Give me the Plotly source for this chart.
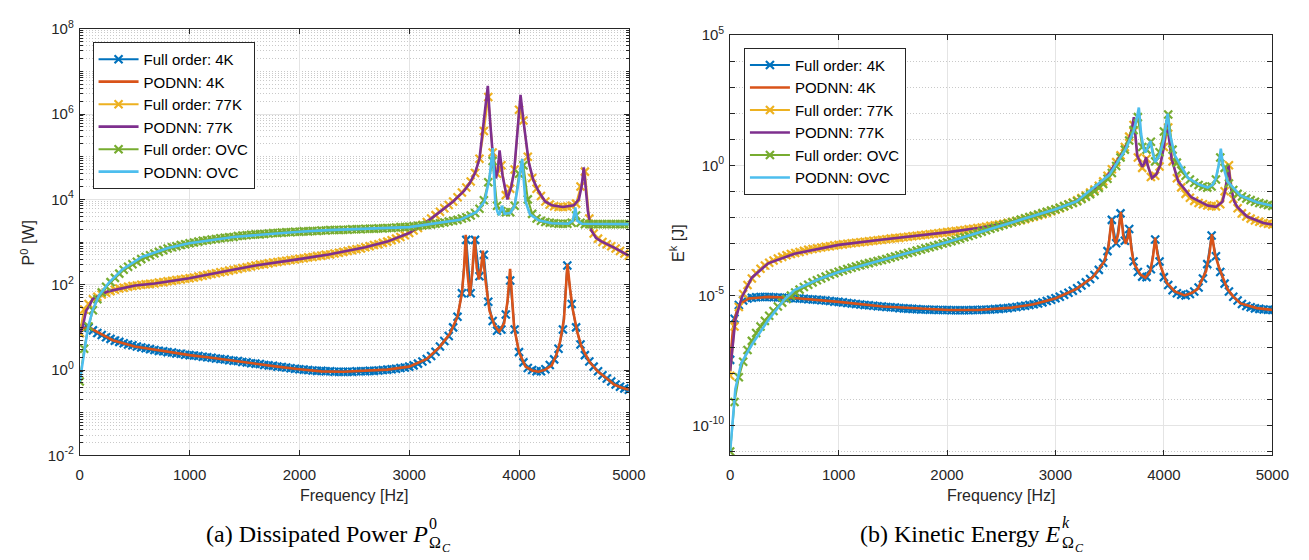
import plotly.graph_objects as go

# ---------------- data (log10 values) ----------------
F_FULL = list(range(0, 5001, 40))  # full-order frequency grid [Hz]

# Left: dissipated power P0 [W], log10
P_4K_FULL = [
    0.87, 0.98, 0.99, 0.93, 0.87, 0.82, 0.77, 0.73, 0.69, 0.66,
    0.63, 0.60, 0.58, 0.55, 0.53, 0.51, 0.49, 0.47, 0.45, 0.44,
    0.42, 0.41, 0.39, 0.38, 0.36, 0.35, 0.34, 0.33, 0.31, 0.30,
    0.29, 0.27, 0.26, 0.25, 0.23, 0.22, 0.21, 0.19, 0.18, 0.16,
    0.15, 0.14, 0.12, 0.11, 0.10, 0.08, 0.07, 0.06, 0.04, 0.03,
    0.02, 0.01, 0.00, -0.01, -0.02, -0.02, -0.03, -0.03, -0.04, -0.04,
    -0.04, -0.04, -0.04, -0.03, -0.03, -0.03, -0.02, -0.02, -0.01, 0.00,
    0.01, 0.02, 0.03, 0.05, 0.06, 0.08, 0.11, 0.15, 0.20, 0.26,
    0.33, 0.43, 0.55, 0.68, 0.80, 1.00, 1.25, 1.80, 3.05, 1.80,
    3.05, 2.20, 2.70, 1.60, 1.15, 0.92, 0.95, 1.30, 2.10, 0.95,
    0.42, 0.18, 0.05, 0.00, -0.03, -0.03, 0.02, 0.12, 0.25, 0.50,
    0.95, 2.45, 1.55, 1.00, 0.60, 0.35, 0.20, 0.08, -0.03, -0.12,
    -0.20, -0.27, -0.34, -0.39, -0.43, -0.46]
P_77K_FULL = [
    0.87, 1.42, 1.55, 1.66, 1.72, 1.77, 1.81, 1.85, 1.88, 1.91,
    1.93, 1.95, 1.97, 1.98, 2.00, 2.01, 2.02, 2.03, 2.05, 2.06,
    2.08, 2.09, 2.11, 2.12, 2.14, 2.15, 2.17, 2.19, 2.21, 2.23,
    2.25, 2.27, 2.29, 2.31, 2.33, 2.35, 2.37, 2.39, 2.41, 2.43,
    2.45, 2.47, 2.48, 2.50, 2.52, 2.53, 2.55, 2.56, 2.58, 2.59,
    2.61, 2.62, 2.64, 2.65, 2.67, 2.68, 2.70, 2.71, 2.73, 2.75,
    2.77, 2.79, 2.81, 2.83, 2.85, 2.88, 2.90, 2.93, 2.95, 2.98,
    3.01, 3.04, 3.08, 3.12, 3.16, 3.21, 3.27, 3.33, 3.40, 3.47,
    3.55, 3.63, 3.71, 3.79, 3.87, 3.95, 4.05, 4.16, 4.28, 4.42,
    4.62, 4.95, 5.60, 6.40, 5.10, 4.60, 4.80, 4.10, 4.25, 4.70,
    6.10, 5.85, 5.00, 4.50, 4.25, 4.08, 3.95, 3.88, 3.84, 3.82,
    3.82, 3.83, 3.85, 3.90, 4.30, 4.65, 3.55, 3.20, 3.08, 3.00,
    2.95, 2.90, 2.85, 2.79, 2.73, 2.68]
P_OVC_FULL = [
    -0.27, 0.50, 1.02, 1.40, 1.66, 1.82, 1.95, 2.06, 2.16, 2.26,
    2.35, 2.42, 2.48, 2.54, 2.60, 2.65, 2.69, 2.73, 2.77, 2.81,
    2.85, 2.88, 2.90, 2.93, 2.95, 2.97, 2.99, 3.01, 3.03, 3.04,
    3.06, 3.07, 3.09, 3.10, 3.11, 3.12, 3.14, 3.15, 3.16, 3.17,
    3.18, 3.18, 3.19, 3.20, 3.21, 3.21, 3.22, 3.23, 3.23, 3.24,
    3.24, 3.25, 3.25, 3.26, 3.26, 3.27, 3.27, 3.28, 3.28, 3.28,
    3.29, 3.29, 3.30, 3.30, 3.30, 3.31, 3.31, 3.31, 3.32, 3.32,
    3.33, 3.33, 3.34, 3.35, 3.35, 3.36, 3.37, 3.38, 3.39, 3.40,
    3.41, 3.43, 3.44, 3.46, 3.48, 3.50, 3.52, 3.55, 3.58, 3.62,
    3.68, 3.78, 3.98, 4.40, 4.90, 3.85, 3.72, 3.70, 3.70, 3.85,
    4.60, 4.80, 4.00, 3.66, 3.55, 3.50, 3.47, 3.45, 3.44, 3.43,
    3.43, 3.43, 3.45, 3.62, 3.45, 3.42, 3.42, 3.42, 3.42, 3.42,
    3.42, 3.42, 3.42, 3.42, 3.42, 3.42]

P_4K_NN_F = [0, 40, 80, 150, 300, 500, 800, 1000, 1200, 1500, 1800, 2000, 2200, 2400,
             2600, 2800, 3000, 3160, 3280, 3370, 3440, 3480, 3500, 3515, 3530, 3552,
             3575, 3596, 3615, 3635, 3655, 3671, 3690, 3731, 3776, 3820, 3865, 3895,
             3919, 3935, 3955, 4000, 4059, 4120, 4178, 4240, 4298, 4340, 4373, 4410,
             4441, 4465, 4492, 4530, 4567, 4640, 4716, 4800, 4866, 4930, 5000]
P_4K_NN = [0.87, 0.98, 1.00, 0.90, 0.70, 0.55, 0.42, 0.35, 0.29, 0.18, 0.08, 0.02, -0.03, -0.04,
           -0.02, 0.01, 0.08, 0.26, 0.55, 0.85, 1.25, 1.80, 2.40, 3.17, 2.30, 1.73,
           2.30, 3.13, 2.40, 2.12, 2.40, 2.80, 2.20, 1.39, 1.05, 0.90, 1.10, 1.60,
           2.37, 1.70, 1.01, 0.42, 0.08, -0.01, -0.04, 0.01, 0.11, 0.35, 0.65, 1.20,
           2.49, 1.90, 1.39, 0.90, 0.56, 0.20, -0.03, -0.20, -0.34, -0.41, -0.46]
P_77K_NN_F = [0, 27, 57, 87, 116, 161, 206, 266, 385, 505, 684, 997, 1371, 1600, 1998,
              2267, 2600, 2800, 3000, 3200, 3400, 3500, 3552, 3600, 3640, 3671, 3695,
              3716, 3735, 3755, 3790, 3808, 3823, 3835, 3850, 3894, 3930, 3955, 3985,
              4014, 4044, 4089, 4130, 4179, 4238, 4300, 4400, 4500, 4545, 4570, 4590,
              4605, 4627, 4657, 4700, 4746, 4866, 5000]
P_77K_NN = [0.87, 1.01, 1.39, 1.50, 1.66, 1.72, 1.79, 1.85, 1.92, 1.98, 2.03, 2.15, 2.34, 2.45, 2.60,
            2.71, 2.88, 3.01, 3.21, 3.55, 3.95, 4.20, 4.38, 4.62, 4.95, 5.60, 6.10,
            6.66, 5.90, 5.24, 4.49, 4.70, 5.15, 4.80, 4.56, 4.00, 4.30, 4.64, 5.55,
            6.45, 5.77, 4.87, 4.45, 4.19, 3.95, 3.86, 3.82, 3.86, 4.00, 4.30, 4.75,
            4.30, 3.73, 3.28, 3.10, 3.02, 2.87, 2.68]
P_OVC_NN_F = [0, 20, 42, 72, 116, 176, 266, 385, 565, 804, 997, 1400, 1998, 2267, 3000,
              3462, 3611, 3686, 3731, 3748, 3761, 3772, 3785, 3805, 3820, 3845, 3870,
              3920, 3960, 3990, 4015, 4029, 4042, 4059, 4100, 4179, 4300, 4450, 4490,
              4513, 4530, 4570, 5000]
P_OVC_NN = [-0.27, 0.05, 0.45, 0.95, 1.40, 1.75, 2.05, 2.35, 2.65, 2.86, 2.97, 3.12, 3.24, 3.28, 3.35,
            3.52, 3.70, 3.95, 4.49, 4.90, 5.20, 4.60, 3.88, 3.70, 3.63, 3.85, 3.66,
            3.68, 3.85, 4.30, 4.70, 4.95, 4.50, 3.95, 3.65, 3.51, 3.44, 3.43, 3.50,
            3.81, 3.50, 3.43, 3.42]

# Right: kinetic energy Ek [J], log10
E_4K_FULL = [
    -7.48, -5.90, -5.37, -5.20, -5.12, -5.09, -5.07, -5.06, -5.06, -5.06,
    -5.07, -5.08, -5.09, -5.09, -5.10, -5.11, -5.12, -5.13, -5.15, -5.16,
    -5.17, -5.19, -5.20, -5.22, -5.24, -5.25, -5.27, -5.29, -5.31, -5.33,
    -5.35, -5.37, -5.38, -5.40, -5.42, -5.43, -5.45, -5.46, -5.47, -5.49,
    -5.50, -5.51, -5.52, -5.53, -5.54, -5.54, -5.55, -5.55, -5.56, -5.56,
    -5.56, -5.57, -5.57, -5.57, -5.57, -5.57, -5.56, -5.56, -5.55, -5.55,
    -5.54, -5.53, -5.52, -5.50, -5.49, -5.47, -5.45, -5.42, -5.40, -5.37,
    -5.34, -5.31, -5.27, -5.22, -5.17, -5.11, -5.05, -4.98, -4.90, -4.82,
    -4.73, -4.62, -4.50, -4.37, -4.22, -4.02, -3.75, -3.30, -2.10, -3.00,
    -1.85, -2.90, -2.45, -3.70, -4.10, -4.28, -4.30, -4.00, -2.85, -3.70,
    -4.30, -4.60, -4.80, -4.92, -4.98, -5.00, -4.95, -4.85, -4.70, -4.35,
    -3.80, -2.70, -3.50, -4.10, -4.55, -4.85, -5.05, -5.20, -5.33, -5.41,
    -5.46, -5.50, -5.52, -5.54, -5.55, -5.56]
E_77K_FULL = [
    -8.09, -6.20, -5.45, -4.95, -4.60, -4.35, -4.15, -3.98, -3.85, -3.75,
    -3.66, -3.58, -3.52, -3.46, -3.41, -3.37, -3.33, -3.29, -3.25, -3.22,
    -3.19, -3.16, -3.13, -3.11, -3.08, -3.06, -3.04, -3.02, -3.00, -2.98,
    -2.96, -2.94, -2.92, -2.90, -2.88, -2.86, -2.84, -2.82, -2.80, -2.79,
    -2.77, -2.75, -2.73, -2.71, -2.69, -2.67, -2.65, -2.63, -2.61, -2.59,
    -2.57, -2.55, -2.53, -2.51, -2.49, -2.46, -2.44, -2.41, -2.39, -2.36,
    -2.33, -2.31, -2.28, -2.25, -2.21, -2.18, -2.14, -2.11, -2.07, -2.02,
    -1.98, -1.93, -1.88, -1.83, -1.77, -1.71, -1.65, -1.58, -1.51, -1.43,
    -1.35, -1.26, -1.16, -1.05, -0.93, -0.79, -0.62, -0.40, -0.15, 0.12,
    0.38, 0.70, 1.10, 1.55, 0.30, -0.10, 0.25, -0.45, -0.40, -0.05,
    0.70, 1.45, 0.15, -0.50, -0.85, -1.10, -1.25, -1.37, -1.45, -1.50,
    -1.55, -1.57, -1.58, -1.50, -1.00, 0.00, -1.30, -1.65, -1.85, -1.97,
    -2.05, -2.12, -2.17, -2.22, -2.25, -2.28]
E_OVC_FULL = [
    -11.00, -9.10, -8.15, -7.55, -7.10, -6.75, -6.45, -6.20, -5.98, -5.78,
    -5.60, -5.43, -5.28, -5.14, -5.01, -4.89, -4.78, -4.68, -4.59, -4.50,
    -4.42, -4.35, -4.28, -4.21, -4.15, -4.09, -4.04, -3.99, -3.94, -3.89,
    -3.84, -3.80, -3.76, -3.72, -3.68, -3.64, -3.60, -3.55, -3.51, -3.46,
    -3.42, -3.37, -3.33, -3.28, -3.24, -3.19, -3.15, -3.10, -3.06, -3.01,
    -2.97, -2.92, -2.87, -2.82, -2.77, -2.72, -2.66, -2.61, -2.55, -2.50,
    -2.44, -2.39, -2.34, -2.29, -2.24, -2.19, -2.14, -2.09, -2.04, -1.99,
    -1.94, -1.89, -1.84, -1.79, -1.74, -1.69, -1.63, -1.57, -1.51, -1.45,
    -1.38, -1.30, -1.21, -1.11, -1.00, -0.87, -0.72, -0.52, -0.30, -0.03,
    0.30, 0.60, 0.95, 1.35, 1.85, 0.70, 0.60, 0.90, 0.15, 0.50,
    1.30, 1.95, 0.60, 0.10, -0.20, -0.40, -0.55, -0.67, -0.76, -0.82,
    -0.86, -0.82, -0.55, 0.30, -0.10, -0.70, -0.95, -1.10, -1.20, -1.28,
    -1.34, -1.40, -1.45, -1.49, -1.53, -1.56]

E_4K_NN_F = [0, 33, 79, 170, 351, 593, 1001, 1409, 2015, 2287, 2600, 2800, 3004, 3194, 3345,
             3451, 3490, 3518, 3540, 3557, 3580, 3603, 3625, 3648, 3665, 3681, 3700, 3723,
             3784, 3829, 3875, 3900, 3920, 3940, 3966, 4026, 4100, 4192, 4260, 4313, 4389,
             4420, 4443, 4470, 4510, 4585, 4640, 4707, 4858, 5000]
E_4K_NN = [-7.48, -6.00, -5.37, -5.12, -5.06, -5.10, -5.25, -5.43, -5.56, -5.56, -5.47, -5.34, -5.11, -4.75, -4.30,
           -3.70, -3.10, -2.04, -2.80, -3.02, -2.60, -1.79, -2.70, -3.02, -2.80, -2.41, -3.20, -3.77,
           -4.20, -4.32, -4.07, -3.50, -2.78, -3.40, -3.83, -4.51, -4.85, -5.00, -4.90, -4.75, -4.07,
           -3.40, -2.65, -3.40, -3.95, -4.75, -5.05, -5.31, -5.49, -5.56]
E_77K_NN_F = [0, 48, 109, 200, 351, 593, 1001, 1409, 2015, 2287, 2600, 3000, 3200, 3400, 3497,
              3618, 3678, 3705, 3723, 3738, 3754, 3800, 3822, 3836, 3850, 3890, 3930, 3966,
              4000, 4026, 4045, 4071, 4132, 4253, 4404, 4480, 4540, 4570, 4595, 4620, 4650,
              4677, 4767, 4918, 5000]
E_77K_NN = [-7.90, -5.93, -5.06, -4.32, -3.77, -3.40, -3.06, -2.85, -2.57, -2.41, -2.18, -1.71, -1.35, -0.79, -0.30,
            0.49, 0.99, 1.40, 1.85, 1.00, 0.37, -0.06, 0.10, 0.31, 0.00, -0.49, -0.35, 0.00,
            0.70, 1.73, 1.00, 0.25, -0.62, -1.23, -1.55, -1.60, -1.40, -0.90, 0.00, -0.90, -1.40,
            -1.60, -1.97, -2.22, -2.28]
E_OVC_NN_F = [0, 20, 48, 103, 200, 351, 502, 593, 805, 1001, 1409, 2015, 2287, 2600, 3000,
              3194, 3497, 3648, 3720, 3750, 3769, 3790, 3815, 3829, 3860, 3877, 3895, 3920,
              3960, 4000, 4020, 4035, 4055, 4102, 4223, 4330, 4404, 4450, 4480, 4505, 4525,
              4545, 4586, 4707, 4858, 5000]
E_OVC_NN = [-11.00, -10.00, -8.60, -7.60, -6.90, -5.95, -5.15, -4.80, -4.40, -4.10, -3.64, -2.94, -2.59, -2.19, -1.69,
            -1.39, -0.37, 0.62, 1.30, 1.80, 2.22, 1.20, 0.60, 0.49, 0.75, 0.93, 0.50, 0.12,
            0.40, 1.00, 1.60, 1.98, 1.20, 0.37, -0.49, -0.75, -0.86, -0.75, -0.49, 0.00, 0.64,
            0.00, -0.62, -1.17, -1.42, -1.56]

NAMES = ["Full order: 4K", "PODNN: 4K", "Full order: 77K", "PODNN: 77K",
         "Full order: OVC", "PODNN: OVC"]
COLORS = ["#0072BD", "#D95319", "#EDB120", "#7E2F8E", "#77AC30", "#4DBEEE"]

W, H = 1309, 560


def px(x):
    return x / W


def py(y):
    return 1 - y / H


fig = go.Figure()


def add_panel(full_list, nn_list, xa, ya, leg):
    for k, (full, nn) in enumerate(zip(full_list, nn_list)):
        c_full = COLORS[2 * k]
        c_nn = COLORS[2 * k + 1]
        fig.add_trace(go.Scatter(
            x=F_FULL, y=[10 ** v for v in full], mode="lines+markers",
            name=NAMES[2 * k], xaxis=xa, yaxis=ya, legend=leg,
            line=dict(color=c_full, width=2),
            marker=dict(symbol="x-thin", size=8, line=dict(color=c_full, width=2.2))))
        fig.add_trace(go.Scatter(
            x=nn[0], y=[10 ** v for v in nn[1]], mode="lines",
            name=NAMES[2 * k + 1], xaxis=xa, yaxis=ya, legend=leg,
            line=dict(color=c_nn, width=2.6)))


add_panel([P_4K_FULL, P_77K_FULL, P_OVC_FULL],
          [(P_4K_NN_F, P_4K_NN), (P_77K_NN_F, P_77K_NN), (P_OVC_NN_F, P_OVC_NN)],
          "x", "y", "legend")
add_panel([E_4K_FULL, E_77K_FULL, E_OVC_FULL],
          [(E_4K_NN_F, E_4K_NN), (E_77K_NN_F, E_77K_NN), (E_OVC_NN_F, E_OVC_NN)],
          "x2", "y2", "legend2")

AX = "#262626"
GRID = "#e4e4e4"
MINOR = "#c9c9c9"
DOT = "1px,2px"
TICKFONT = dict(family="Liberation Sans, Arial, sans-serif", size=15, color=AX)

xcommon = dict(range=[0, 5000], tickmode="array", tickvals=[0, 1000, 2000, 3000, 4000, 5000],
               ticks="inside", ticklen=5, tickcolor=AX, showline=True, linecolor=AX, linewidth=1,
               mirror="allticks", showgrid=True, gridcolor=GRID, gridwidth=1, zeroline=False,
               tickfont=TICKFONT, ticklabelstandoff=6)

fig.update_layout(
    width=W, height=H, margin=dict(l=0, r=0, t=0, b=0),
    paper_bgcolor="white", plot_bgcolor="white",
    font=dict(family="Liberation Sans, Arial, sans-serif", size=15, color=AX),
    xaxis=dict(domain=[px(77), px(635)], anchor="y", **xcommon),
    xaxis2=dict(domain=[px(738), px(1289)], anchor="y2", **xcommon),
    yaxis=dict(type="log", domain=[py(460), py(18.3)], anchor="x", range=[-2, 8],
               tickmode="array", tickvals=[1e-2, 1, 1e2, 1e4, 1e6, 1e8],
               ticktext=["10<sup>-2</sup>", "10<sup>0</sup>", "10<sup>2</sup>",
                         "10<sup>4</sup>", "10<sup>6</sup>", "10<sup>8</sup>"],
               ticks="inside", ticklen=5, tickcolor=AX, showline=True, linecolor=AX,
               mirror="allticks", showgrid=True, gridcolor=GRID, zeroline=False,
               tickfont=TICKFONT, ticklabelstandoff=2,
               minor=dict(dtick="D1", ticks="inside", ticklen=3, tickcolor=AX,
                          showgrid=True, gridcolor=MINOR, griddash=DOT, gridwidth=1)),
    yaxis2=dict(type="log", domain=[py(460), py(25)], anchor="x2", range=[-11.15, 5],
                tickmode="array", tickvals=[1e-10, 1e-5, 1, 1e5],
                ticktext=["10<sup>-10</sup>", "10<sup>-5</sup>", "10<sup>0</sup>", "10<sup>5</sup>"],
                ticks="inside", ticklen=5, tickcolor=AX, showline=True, linecolor=AX,
                mirror="allticks", showgrid=True, gridcolor=GRID, zeroline=False,
                tickfont=TICKFONT, ticklabelstandoff=2,
                minor=dict(tickmode="linear", tick0=0, dtick=1, ticks="inside", ticklen=5,
                           tickcolor=AX, showgrid=True, gridcolor=MINOR, griddash=DOT,
                           gridwidth=1)),
    legend=dict(x=px(90), y=py(32), xanchor="left", yanchor="top", bgcolor="white",
                bordercolor=AX, borderwidth=1, font=dict(size=15, color="#000000"),
                tracegroupgap=0, itemwidth=40),
    legend2=dict(x=px(752), y=py(38), xanchor="left", yanchor="top", bgcolor="white",
                 bordercolor=AX, borderwidth=1, font=dict(size=15, color="#000000"),
                 tracegroupgap=0, itemwidth=40),
    showlegend=True,
)

ann = []
LAB = dict(family="Liberation Sans, Arial, sans-serif", size=16, color=AX)


def note(x, y, text, font, xanchor="center", angle=0):
    ann.append(dict(x=px(x), y=py(y), xref="paper", yref="paper", text=text,
                    showarrow=False, font=font, xanchor=xanchor, yanchor="middle",
                    textangle=angle))


note(356, 502, "Frequency [Hz]", LAB)
note(1013, 502, "Frequency [Hz]", LAB)
note(24, 240, "P<sup>0</sup> [W]", LAB, angle=-90)
note(684, 240, "E<sup>k</sup> [J]", LAB, angle=-90)

SERIF = "Liberation Serif, Times New Roman, serif"
cap = dict(family=SERIF, size=24, color="#000000")
small = dict(family=SERIF, size=16, color="#000000")
tiny = dict(family=SERIF, size=12, color="#000000")
# caption (a)
note(433, 541, "(a) Dissipated Power <i>P</i>", cap, xanchor="right")
note(430, 530, "0", small, xanchor="left")
note(430, 550, "Ω", small, xanchor="left")
note(443, 556, "<i>C</i>", tiny, xanchor="left")
# caption (b)
note(1076, 541, "(b) Kinetic Energy <i>E</i>", cap, xanchor="right")
note(1073, 529, "<i>k</i>", small, xanchor="left")
note(1073, 550, "Ω", small, xanchor="left")
note(1086, 556, "<i>C</i>", tiny, xanchor="left")
fig.update_layout(annotations=ann)

fig.write_html("out.html")
